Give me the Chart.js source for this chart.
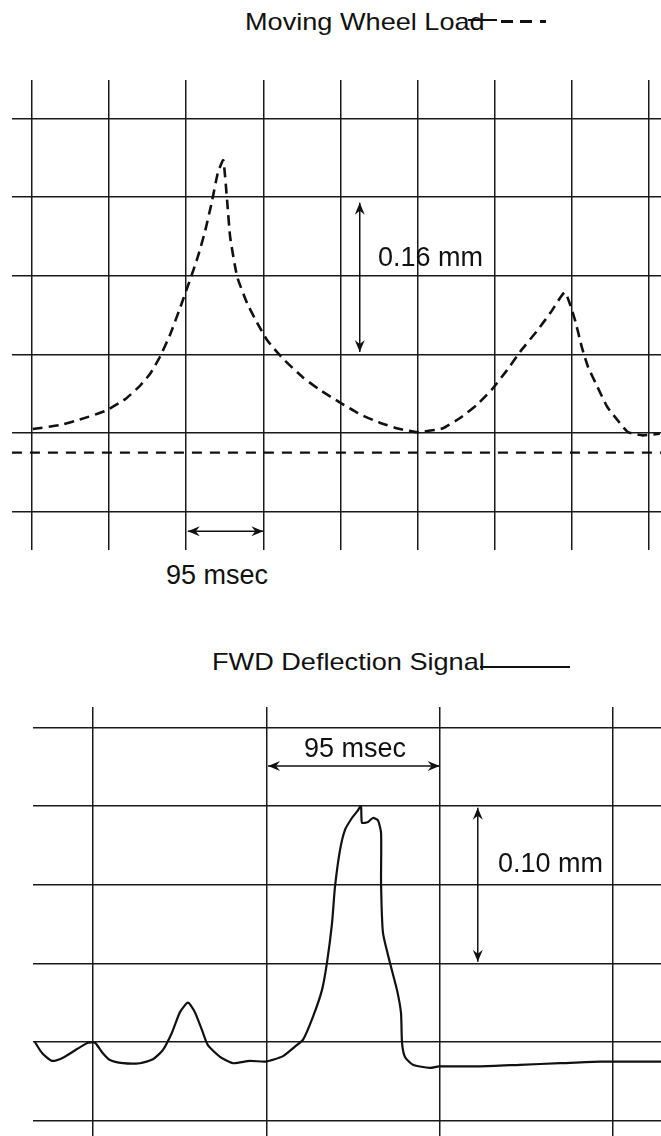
<!DOCTYPE html>
<html>
<head>
<meta charset="utf-8">
<title>Moving Wheel Load vs FWD Deflection Signal</title>
<script src="https://cdn.jsdelivr.net/npm/chart.js@4.4.0/dist/chart.umd.min.js"></script>
<style>
  body { margin: 0; background: #fff; }
  #page { position: relative; width: 661px; height: 1136px; overflow: hidden; background: #fff; }
  canvas { position: absolute; }
  .txt { position: absolute; font-family: "Liberation Sans", Arial, sans-serif; font-size: 27px; line-height: 27px; color: #111; white-space: nowrap; }
  .ttl { position: absolute; font-family: "Liberation Sans", Arial, sans-serif; font-size: 24px; line-height: 24px; color: #111; white-space: nowrap; transform: scaleX(1.13); transform-origin: left top; }
  .mark { position: absolute; background: #111; }
</style>
</head>
<body>
<div id="page">
  <div class="ttl" style="left:245px;top:10px;">Moving Wheel Load</div>
  <div class="mark" style="left:468px;top:19px;width:29px;height:2px;"></div>
  <div class="mark" style="left:501px;top:20px;width:12px;height:3px;"></div>
  <div class="mark" style="left:520px;top:20px;width:12px;height:3px;"></div>
  <div class="mark" style="left:540px;top:20px;width:6px;height:3px;"></div>
  <canvas id="loadChart" width="649" height="470" style="left:12px;top:80px;"></canvas>
  <div class="txt" style="left:378px;top:244px;">0.16 mm</div>
  <div class="txt" style="left:166px;top:562px;">95 msec</div>

  <div class="ttl" style="left:212px;top:650px;">FWD Deflection Signal</div>
  <div class="mark" style="left:480px;top:666px;width:90px;height:2px;"></div>
  <canvas id="fwdChart" width="628" height="429" style="left:33px;top:707px;"></canvas>
  <div class="txt" style="left:304px;top:735px;">95 msec</div>
  <div class="txt" style="left:498px;top:850px;">0.10 mm</div>
</div>

<script>
// x and y are in grid divisions (one division = 95 msec across)

// moving wheel load trace (dashed)
const loadX = [0.01, 0.36, 0.62, 0.95, 1.21, 1.40, 1.53, 1.66, 1.79, 1.92, 2.05, 2.15, 2.24, 2.33, 2.41, 2.48,
  2.53, 2.57, 2.66, 2.79, 2.92, 3.05, 3.25, 3.51, 3.73, 3.99, 4.25, 4.51, 4.77, 5.00, 5.23, 5.33,
  5.55, 5.77, 5.96, 6.16, 6.35, 6.55, 6.73, 6.91, 7.04, 7.13, 7.21, 7.33, 7.46, 7.62, 7.73, 7.92, 8.14];
const loadY = [0.05, 0.10, 0.17, 0.28, 0.43, 0.60, 0.75, 0.97, 1.25, 1.59, 1.95, 2.24, 2.55, 2.93, 3.31, 3.47,
  2.96, 2.49, 1.99, 1.65, 1.40, 1.18, 0.95, 0.71, 0.55, 0.39, 0.24, 0.13, 0.05, 0.01, 0.04, 0.06,
  0.19, 0.36, 0.55, 0.80, 1.06, 1.30, 1.54, 1.79, 1.44, 1.09, 0.84, 0.59, 0.33, 0.13, 0.01, -0.03, -0.01];
const loadRefY = -0.25; // dashed reference line

// FWD deflection trace (solid)
const fwdX = [-0.335, -0.294, -0.237, -0.173, -0.092, -0.029, 0.012, 0.052, 0.098, 0.173, 0.271, 0.346,
  0.404, 0.456, 0.502, 0.548, 0.588, 0.629, 0.663, 0.733, 0.808, 0.906, 0.998, 1.096, 1.165, 1.212,
  1.269, 1.321, 1.350, 1.379, 1.396, 1.425, 1.454, 1.494, 1.523, 1.546, 1.552, 1.587, 1.615, 1.644,
  1.662, 1.662, 1.673, 1.713, 1.754, 1.777, 1.783, 1.800, 1.846, 1.944, 1.996, 2.233, 2.464, 2.694,
  2.925, 3.277];
const fwdY = [0, -0.14, -0.24, -0.20, -0.09, -0.01, -0.01, -0.13, -0.23, -0.27, -0.27, -0.22,
  -0.10, 0.12, 0.38, 0.50, 0.38, 0.15, -0.04, -0.19, -0.27, -0.24, -0.25, -0.18, -0.06, 0.03,
  0.32, 0.66, 1.01, 1.51, 1.97, 2.44, 2.70, 2.85, 2.93, 3.00, 2.79, 2.80, 2.85, 2.82,
  2.66, 2.02, 1.39, 1.01, 0.66, 0.37, -0.01, -0.19, -0.29, -0.33, -0.31, -0.31, -0.29, -0.27,
  -0.25, -0.25];

// grid lines
const loadGridX = [0, 1, 2, 3, 4, 5, 6, 7, 8];
const loadGridY = [-1, 0, 1, 2, 3, 4];
const fwdGridX = [0, 1, 2, 3];
const fwdGridY = [-1, 0, 1, 2, 3, 4];

// dimension arrows [x1, y1, x2, y2]
const loadArrows = [[4.25, 2.93, 4.25, 1.03], [2.02, -1.25, 3.0, -1.25]];
const fwdArrows = [[1.01, 3.51, 2.0, 3.51], [2.22, 2.98, 2.22, 1.02]];

function toPoints(xs, ys) {
  return xs.map(function (x, i) { return { x: x, y: ys[i] }; });
}

function arrowHead(ctx, x, y, ang) {
  ctx.save();
  ctx.translate(x, y);
  ctx.rotate(ang);
  ctx.beginPath();
  ctx.moveTo(0, 0);
  ctx.lineTo(-12, -5);
  ctx.lineTo(-8, 0);
  ctx.lineTo(-12, 5);
  ctx.closePath();
  ctx.fill();
  ctx.restore();
}

function arrowPlugin(arrows) {
  return {
    id: "arrows",
    afterDatasetsDraw: function (chart) {
      var ctx = chart.ctx;
      var sx = chart.scales.x;
      var sy = chart.scales.y;
      ctx.save();
      ctx.strokeStyle = "#111";
      ctx.fillStyle = "#111";
      ctx.lineWidth = 1.5;
      arrows.forEach(function (a) {
        var x1 = sx.getPixelForValue(a[0]);
        var y1 = sy.getPixelForValue(a[1]);
        var x2 = sx.getPixelForValue(a[2]);
        var y2 = sy.getPixelForValue(a[3]);
        ctx.beginPath();
        ctx.moveTo(x1, y1);
        ctx.lineTo(x2, y2);
        ctx.stroke();
        var ang = Math.atan2(y2 - y1, x2 - x1);
        arrowHead(ctx, x2, y2, ang);
        arrowHead(ctx, x1, y1, ang + Math.PI);
      });
      ctx.restore();
    },
  };
}

function gridScale(min, max, grid) {
  return {
    type: "linear",
    min: min,
    max: max,
    border: { display: false },
    grid: { color: "#1a1a1a", lineWidth: 1.5, drawTicks: false },
    ticks: { display: false },
    afterBuildTicks: function (axis) {
      axis.ticks = grid.map(function (v) { return { value: v }; });
    },
  };
}

var baseOptions = function (xmin, xmax, gx, ymin, ymax, gy) {
  return {
    responsive: false,
    animation: false,
    devicePixelRatio: 1,
    layout: { padding: 0 },
    plugins: { legend: { display: false }, tooltip: { enabled: false } },
    scales: {
      x: gridScale(xmin, xmax, gx),
      y: gridScale(ymin, ymax, gy),
    },
  };
};

// top chart: moving wheel load
var ctx1 = document.getElementById("loadChart").getContext("2d");
new Chart(ctx1, {
  type: "line",
  data: {
    datasets: [
      {
        label: "Moving Wheel Load",
        data: toPoints(loadX, loadY),
        borderColor: "#111",
        borderWidth: 2.6,
        borderDash: [10, 6],
        pointRadius: 0,
        tension: 0.15,
        fill: false,
      },
      {
        label: "reference",
        data: [{ x: -0.26, y: loadRefY }, { x: 8.16, y: loadRefY }],
        borderColor: "#111",
        borderWidth: 2.4,
        borderDash: [10, 8],
        pointRadius: 0,
        fill: false,
      },
    ],
  },
  options: baseOptions(-0.259, 8.156, loadGridX, -1.489, 4.491, loadGridY),
  plugins: [arrowPlugin(loadArrows)],
});

// bottom chart: FWD deflection signal
var ctx2 = document.getElementById("fwdChart").getContext("2d");
new Chart(ctx2, {
  type: "line",
  data: {
    datasets: [
      {
        label: "FWD Deflection Signal",
        data: toPoints(fwdX, fwdY),
        borderColor: "#111",
        borderWidth: 2.2,
        pointRadius: 0,
        tension: 0.2,
        fill: false,
      },
    ],
  },
  options: baseOptions(-0.346, 3.277, fwdGridX, -1.196, 4.262, fwdGridY),
  plugins: [arrowPlugin(fwdArrows)],
});
</script>
</body>
</html>
